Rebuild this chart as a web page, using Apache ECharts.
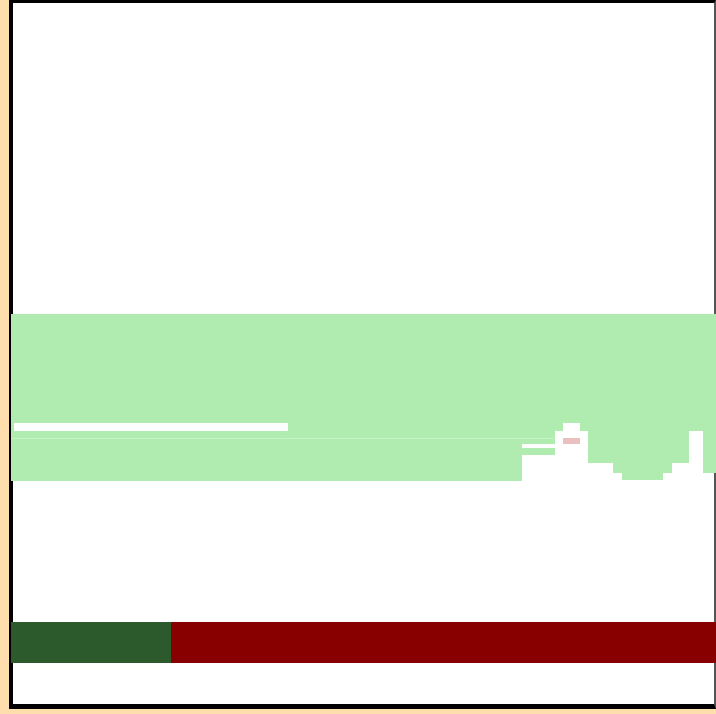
<!DOCTYPE html>
<html>
<head>
	<meta charset="utf-8">
	<title></title>
	<script src="https://cdn.jsdelivr.net/npm/echarts@6/dist/echarts.min.js"></script>
	<style>
		body { margin: 0; background: #ffdead; width: 716px; height: 714px; overflow: hidden; }
		#frame { position: absolute; left: 9px; top: 0; width: 707px; height: 709px; box-sizing: border-box;
			background: #fff; border-style: solid; border-color: #000 #555 #000 #000; border-width: 3px 2px 5px 4px; }
		#chart { position: absolute; left: 0; top: 0; width: 716px; height: 714px; }
	</style>
</head>

<body>
	<div id="frame"></div>
	<div id="chart"></div>
	<script>

		// band: column edges (in cells) and how deep the green goes in each column (rows)
		var colEdges = [0, 61.3, 65.3, 66.2, 68.3, 69.2, 72.2, 73.3, 78.2, 79.3, 81.4, 83.0, 84.6]
		var colDepth = [20, 16.9, 14, 13, 14, 17.9, 19, 19.9, 19, 17.9, 14, 19]

		// white holes inside the band  [x0, x1, y0, y1]
		var gaps = [
			[0.36, 33.2, 13, 14],
			[61.3, 65.3, 15.6, 16]
		]
		// small pink mark
		var marks = [
			[66.2, 68.3, 14.85, 15.6]
		]
		// faint seam  [x0, x1, y]
		var seams = [
			[0, 65.3, 14.85]
		]

		// bottom bar
		var barNames = ['green', 'red']
		var barValues = [160, 545]
		var barColors = ['#2d5a2d', '#880000']

		var bandData = []
		for (var i = 0; i < colDepth.length; i++) {
			bandData.push([colEdges[i], colEdges[i + 1], 0, colDepth[i]])
		}

		// rectangles snapped to whole pixels so that neighbours meet without a seam
		function rectItem(color) {
			return function (params, api) {
				var p0 = api.coord([api.value(0), api.value(2)])
				var p1 = api.coord([api.value(1), api.value(3)])
				var x0 = Math.round(p0[0]), y0 = Math.round(p0[1])
				var x1 = Math.round(p1[0]), y1 = Math.round(p1[1])
				return {
					type: 'rect',
					shape: { x: x0, y: y0, width: x1 - x0, height: y1 - y0 },
					style: { fill: color }
				}
			}
		}

		var mCharts = echarts.init(document.querySelector("#chart"))

		var opt = {
			animation: false,
			grid: [
				{ left: 11, right: 0, top: 314, height: 167 },
				{ left: 11, right: 0, top: 622, height: 41 }
			],
			xAxis: [
				{ type: 'value', gridIndex: 0, min: 0, max: 84.6, show: false },
				{ type: 'value', gridIndex: 1, min: 0, max: 705, show: false }
			],
			yAxis: [
				{ type: 'value', gridIndex: 0, min: 0, max: 20, inverse: true, show: false },
				{ type: 'category', gridIndex: 1, data: [''], show: false }
			],
			series: [
				{
					type: 'custom',
					renderItem: rectItem('#b0ebb0'),
					data: bandData
				},
				{
					type: 'custom',
					renderItem: rectItem('#ffffff'),
					data: gaps
				},
				{
					type: 'custom',
					renderItem: rectItem('#e8c0c0'),
					data: marks
				},
				{
					type: 'custom',
					renderItem: function (params, api) {
						var a = api.coord([api.value(0), api.value(2)])
						var b = api.coord([api.value(1), api.value(2)])
						var y = Math.round(a[1]) + 0.5
						return {
							type: 'line',
							shape: { x1: a[0], y1: y, x2: b[0], y2: y },
							style: { stroke: '#c6f1c6', lineWidth: 1 }
						}
					},
					data: seams
				},
				{
					name: barNames[0],
					type: 'bar',
					xAxisIndex: 1,
					yAxisIndex: 1,
					stack: 'all',
					barWidth: '100%',
					itemStyle: { color: barColors[0] },
					data: [barValues[0]]
				},
				{
					name: barNames[1],
					type: 'bar',
					xAxisIndex: 1,
					yAxisIndex: 1,
					stack: 'all',
					barWidth: '100%',
					itemStyle: { color: barColors[1] },
					data: [barValues[1]]
				}
			]
		}

		mCharts.setOption(opt)

	</script>

</body>
</html>
